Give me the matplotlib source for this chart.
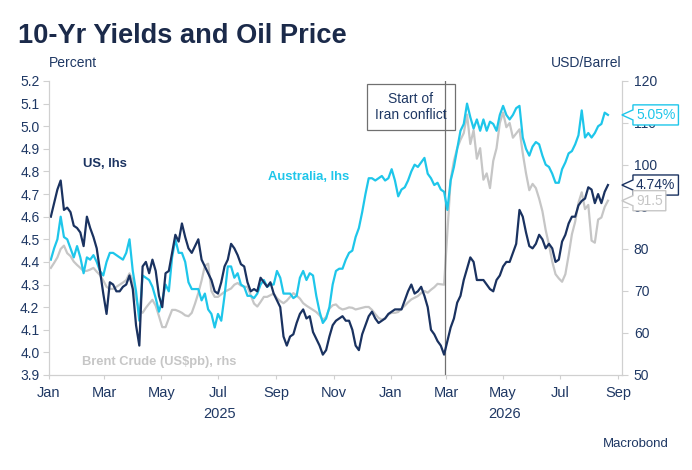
import pandas as pd
import matplotlib
matplotlib.use("Agg")
from matplotlib import pyplot as plt
import matplotlib.dates as mdates
import matplotlib.transforms as mtransforms
from matplotlib.path import Path
from matplotlib.text import Annotation
from matplotlib.ticker import FixedLocator, FormatStrFormatter

plt.rcParams['font.family'] = ['Liberation Sans', 'DejaVu Sans']

# twice-weekly readings
dates = pd.date_range('2025-01-03', periods=171, freq='84h')

us = [4.60, 4.66, 4.72, 4.76, 4.63, 4.64, 4.62, 4.56, 4.55, 4.53,
      4.47, 4.60, 4.55, 4.51, 4.46, 4.36, 4.26, 4.17, 4.31, 4.30,
      4.27, 4.27, 4.29, 4.30, 4.34, 4.28, 4.12, 4.03, 4.38, 4.40,
      4.35, 4.41, 4.36, 4.25, 4.20, 4.35, 4.36, 4.44, 4.52, 4.49,
      4.57, 4.51, 4.46, 4.44, 4.47, 4.50, 4.41, 4.38, 4.35, 4.32,
      4.27, 4.26, 4.31, 4.38, 4.41, 4.48, 4.46, 4.43, 4.39, 4.38,
      4.31, 4.27, 4.28, 4.27, 4.33, 4.31, 4.29, 4.31, 4.26, 4.23,
      4.20, 4.07, 4.03, 4.07, 4.08, 4.13, 4.17, 4.19, 4.15, 4.16,
      4.09, 4.06, 4.03, 3.99, 4.01, 4.07, 4.12, 4.14, 4.15, 4.16,
      4.14, 4.14, 4.10, 4.03, 4.01, 4.08, 4.12, 4.16, 4.18, 4.15,
      4.13, 4.14, 4.15, 4.17, 4.18, 4.19, 4.19, 4.19, 4.23, 4.27,
      4.30, 4.26, 4.27, 4.29, 4.25, 4.20, 4.10, 4.08, 4.05, 4.03,
      3.99, 4.05, 4.11, 4.15, 4.22, 4.25, 4.32, 4.37, 4.42, 4.40,
      4.32, 4.32, 4.32, 4.30, 4.28, 4.27, 4.32, 4.34, 4.38, 4.40,
      4.40, 4.44, 4.48, 4.63, 4.60, 4.53, 4.47, 4.46, 4.48, 4.52,
      4.50, 4.46, 4.48, 4.46, 4.40, 4.41, 4.49, 4.52, 4.57, 4.60,
      4.60, 4.65, 4.67, 4.68, 4.73, 4.72, 4.66, 4.70, 4.66, 4.71,
      4.74]

australia = [4.41, 4.46, 4.50, 4.60, 4.51, 4.50, 4.46, 4.42, 4.47, 4.42,
             4.35, 4.42, 4.41, 4.43, 4.40, 4.36, 4.34, 4.40, 4.44, 4.44,
             4.43, 4.42, 4.41, 4.44, 4.50, 4.36, 4.27, 4.14, 4.34, 4.33,
             4.32, 4.29, 4.24, 4.18, 4.23, 4.30, 4.27, 4.42, 4.50, 4.44,
             4.44, 4.40, 4.31, 4.28, 4.28, 4.28, 4.23, 4.26, 4.19, 4.17,
             4.11, 4.17, 4.14, 4.25, 4.38, 4.38, 4.33, 4.35, 4.30, 4.29,
             4.25, 4.25, 4.24, 4.26, 4.30, 4.32, 4.29, 4.30, 4.30, 4.36,
             4.33, 4.26, 4.26, 4.26, 4.24, 4.25, 4.33, 4.36, 4.32, 4.35,
             4.34, 4.25, 4.18, 4.13, 4.15, 4.20, 4.30, 4.36, 4.37, 4.37,
             4.41, 4.44, 4.45, 4.51, 4.55, 4.62, 4.70, 4.77, 4.77, 4.76,
             4.77, 4.78, 4.76, 4.77, 4.81, 4.76, 4.69, 4.72, 4.73, 4.76,
             4.80, 4.83, 4.82, 4.84, 4.86, 4.79, 4.77, 4.74, 4.75, 4.72,
             4.71, 4.63, 4.76, 4.82, 4.90, 4.98, 5.01, 5.10, 5.04, 4.99,
             5.03, 4.98, 5.03, 4.98, 5.02, 5.01, 4.98, 5.05, 5.09, 5.05,
             5.03, 5.05, 5.08, 5.09, 4.95, 4.90, 4.87, 4.91, 4.93, 4.92,
             4.87, 4.83, 4.82, 4.79, 4.75, 4.75, 4.81, 4.84, 4.88, 4.89,
             4.92, 4.96, 5.07, 4.95, 4.97, 4.95, 4.97, 5.00, 5.01, 5.06,
             5.05]

brent = [75.5, 76.7, 78.0, 80.0, 80.8, 79.0, 78.3, 77.0, 76.2, 75.5,
         74.7, 74.8, 75.1, 75.5, 74.6, 73.8, 72.5, 71.0, 70.5, 70.5,
         71.0, 71.5, 72.0, 72.6, 74.2, 72.6, 68.0, 65.5, 64.8, 66.0,
         67.0, 67.9, 66.5, 64.0, 61.4, 61.4, 63.5, 65.5, 65.5, 65.2,
         64.8, 64.2, 64.0, 64.8, 67.0, 69.5, 72.5, 76.0, 76.5, 70.0,
         68.6, 68.6, 69.2, 69.8, 70.2, 70.6, 71.5, 71.9, 71.3, 71.0,
         71.0, 69.0, 67.0, 66.3, 67.4, 68.6, 68.6, 69.0, 69.4, 68.3,
         67.6, 67.1, 67.7, 68.6, 69.5, 68.9, 68.2, 67.1, 66.5, 66.0,
         65.5, 65.0, 64.2, 63.1, 63.8, 65.8, 66.6, 66.8, 66.0, 65.6,
         65.8, 66.1, 66.0, 65.6, 65.8, 66.0, 66.2, 66.2, 65.5, 64.5,
         63.6, 63.2, 63.5, 64.4, 64.8, 64.8, 65.0, 65.8, 66.5, 67.3,
         68.0, 68.4, 68.8, 69.5, 70.0, 69.6, 70.3, 70.9, 71.7, 71.6,
         71.5, 84.0, 96.5, 101.0, 104.0, 106.0, 107.6, 112.0, 105.0, 108.3,
         101.5, 104.0, 96.5, 98.0, 94.5, 101.0, 104.0, 110.0, 112.5, 109.0,
         110.0, 106.5, 107.5, 108.5, 102.8, 98.0, 94.0, 95.5, 94.5, 92.0,
         89.0, 84.5, 81.0, 77.0, 74.0, 73.0, 72.2, 74.0, 78.5, 83.5,
         86.5, 91.0, 93.5, 89.5, 90.5, 82.0, 81.5, 87.0, 87.5, 90.0,
         91.5]

left_ticks = [3.9, 4.0, 4.1, 4.2, 4.3, 4.4, 4.5, 4.6, 4.7, 4.8, 4.9, 5.0, 5.1, 5.2]
right_ticks = [50, 60, 70, 80, 90, 100, 110, 120]
conflict_date = pd.Timestamp('2026-02-28')
years = [('2025', pd.Timestamp('2025-07-02')), ('2026', pd.Timestamp('2026-05-03'))]

NAVY = '#1a3260'
CYAN = '#1ec6ea'
GREY = '#c6c6c6'
TXT = '#1f3864'
AXC = '#d0d0d0'


def tag_box(x0, y0, width, height, mutation_size):
    # value tag with a small pointer on its left side
    pad = 0.22 * mutation_size
    tip = 0.8 * mutation_size
    x0, y0 = x0 - pad, y0 - pad
    w, h = width + 2 * pad, height + 2 * pad
    verts = [(x0, y0), (x0 + w, y0), (x0 + w, y0 + h), (x0, y0 + h),
             (x0, y0 + 0.75 * h), (x0 - tip, y0 + 0.5 * h), (x0, y0 + 0.25 * h),
             (x0, y0)]
    codes = [Path.MOVETO] + [Path.LINETO] * 6 + [Path.CLOSEPOLY]
    return Path(verts, codes)


fig = plt.figure(figsize=(6.92, 4.70), dpi=100)
W, H = 692, 470
ax = fig.add_axes([48.5 / W, 1 - 375 / H, (622 - 48.5) / W, (375 - 81) / H])
ax2 = ax.twinx()
ax.set_zorder(ax2.get_zorder() + 1)
ax.patch.set_visible(False)

ax2.plot(dates, brent, color=GREY, lw=1.6, solid_joinstyle='round')
ax.plot(dates, australia, color=CYAN, lw=1.6, solid_joinstyle='round')
ax.plot(dates, us, color=NAVY, lw=1.6, solid_joinstyle='round')

ax.set_xlim(pd.Timestamp('2024-12-31 12:00'), pd.Timestamp('2026-09-05'))
ax.set_ylim(3.9, 5.2)
ax2.set_ylim(50, 120)

for a in (ax, ax2):
    for s in a.spines.values():
        s.set_color(AXC)
    a.spines['top'].set_visible(False)

ax.yaxis.set_major_locator(FixedLocator(left_ticks))
ax.yaxis.set_major_formatter(FormatStrFormatter('%.1f'))
ax2.yaxis.set_major_locator(FixedLocator(right_ticks))
ax.tick_params(axis='y', colors=AXC, labelcolor=TXT, labelsize=10, length=4, pad=2.5)
ax2.tick_params(axis='y', colors=AXC, labelcolor=TXT, labelsize=10, length=4, pad=4.5)

ax.xaxis.set_major_locator(mdates.MonthLocator(bymonth=[1, 3, 5, 7, 9, 11]))
ax.xaxis.set_major_formatter(mdates.DateFormatter('%b'))
ax.tick_params(axis='x', colors=AXC, labelcolor=TXT, labelsize=10.5, length=3, pad=5)

xtr = ax.get_xaxis_transform()
for label, mid in years:
    ax.annotate(label, xy=(mdates.date2num(mid), 0), xycoords=xtr,
                xytext=(0, -39), textcoords='offset pixels',
                ha='center', va='center', fontsize=10.5, color=TXT, annotation_clip=False)

# conflict marker
ax.axvline(conflict_date, color='#707070', lw=0.9, zorder=1)
ax.annotate('Start of\nIran conflict', xy=(mdates.date2num(conflict_date), 1), xycoords=xtr,
            xytext=(-34, -26), textcoords='offset pixels', ha='center', va='center',
            fontsize=10, color=TXT, linespacing=1.15, annotation_clip=False,
            bbox=dict(boxstyle='square,pad=0.6', fc='none', ec='#707070', lw=0.9))

# series labels
ax.text(0.060, 0.707, 'US, lhs', transform=ax.transAxes, color=NAVY,
        fontsize=9.4, fontweight='bold', va='baseline')
ax.text(0.383, 0.663, 'Australia, lhs', transform=ax.transAxes, color=CYAN,
        fontsize=9.4, fontweight='bold', va='baseline')
ax.text(0.058, 0.034, 'Brent Crude (US$pb), rhs', transform=ax.transAxes, color=GREY,
        fontsize=9.3, fontweight='bold', va='baseline')

# last value tags, drawn at figure level so they sit over the tick labels
tags = [(ax, australia[-1], '%.2f%%' % australia[-1], CYAN),
        (ax, us[-1], '%.2f%%' % us[-1], NAVY),
        (ax2, brent[-1], '%.1f' % brent[-1], GREY)]
for a, val, txt, col in tags:
    tr = mtransforms.blended_transform_factory(a.transAxes, a.transData)
    ann = Annotation(txt, xy=(1, val), xycoords=tr, xytext=(14, 0), textcoords='offset pixels',
                     ha='left', va='center', fontsize=10, color=col,
                     annotation_clip=False,
                     bbox=dict(boxstyle=tag_box, fc='white', ec=col, lw=1.0))
    ann.set_zorder(10)
    fig.add_artist(ann)

fig.text(18 / W, 1 - 43 / H, '10-Yr Yields and Oil Price', fontsize=19.6,
         fontweight='bold', color='#1b2a4a', va='baseline')
fig.text(49 / W, 1 - 67 / H, 'Percent', fontsize=10, color=TXT, va='baseline')
fig.text(621 / W, 1 - 67 / H, 'USD/Barrel', fontsize=10, color=TXT, va='baseline', ha='right')
fig.text(669 / W, 1 - 447 / H, 'Macrobond', fontsize=9.5, color=TXT, va='baseline', ha='right')

fig.savefig('out.png', dpi=100, facecolor='white')
